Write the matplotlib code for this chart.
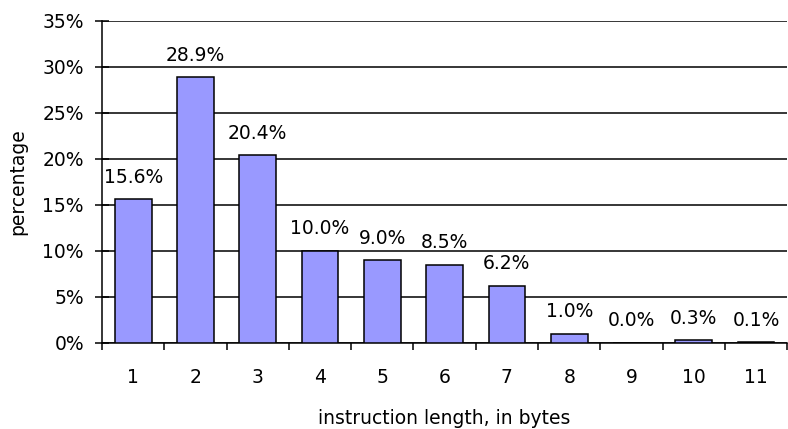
import matplotlib
matplotlib.use("Agg")
import matplotlib.pyplot as plt
import numpy as np

categories = ["1", "2", "3", "4", "5", "6", "7", "8", "9", "10", "11"]
values = [15.6, 28.9, 20.4, 10.0, 9.0, 8.5, 6.2, 1.0, 0.0, 0.3, 0.1]
yticks = [0, 5, 10, 15, 20, 25, 30, 35]

plt.rcParams['font.family'] = ['DejaVu Sans']
FS = 13.5

fig = plt.figure(figsize=(7.88, 4.29), dpi=100)
ax_left = 102 / 788
ax_w = 1 - ax_left - 0.001
ax = fig.add_axes([ax_left, 1 - 343 / 429, ax_w, (343 - 21) / 429])

x = np.arange(len(categories))
ax.bar(x, values, width=0.59, color="#9999FF", edgecolor="black", linewidth=1.1, zorder=3)

ax.set_xlim(-0.5, len(categories) - 0.5)
ax.set_ylim(0, 35)
ax.set_yticks(yticks)
ax.set_yticklabels([f"{t}%" for t in yticks])
ax.yaxis.grid(True, color="black", linewidth=1.1)
ax.set_axisbelow(True)

ax.set_xticks(x)
ax.set_xticklabels(categories)
ax.set_xticks(np.arange(len(categories) + 1) - 0.5, minor=True)
ax.tick_params(axis='x', which='major', length=0, pad=18, labelsize=FS)
ax.tick_params(axis='x', which='minor', length=5, width=1.1, direction='out')
ax.tick_params(axis='y', length=10, width=1.1, direction='inout', labelsize=FS, pad=8)

for s in ['top', 'right']:
    ax.spines[s].set_visible(False)
for s in ['left', 'bottom']:
    ax.spines[s].set_linewidth(1.1)

for xi, v in zip(x, values):
    ax.annotate(f"{v:.1f}%", (xi, v), xytext=(0, 9), textcoords='offset points',
                ha='center', va='bottom', fontsize=FS, clip_on=False)

ax.set_ylabel("percentage", fontsize=FS)
ax.yaxis.set_label_coords((27 - 102) / (ax_w * 788), 0.5)
ax.set_xlabel("instruction length, in bytes", fontsize=FS, labelpad=16)

fig.savefig("out.png", dpi=100)
